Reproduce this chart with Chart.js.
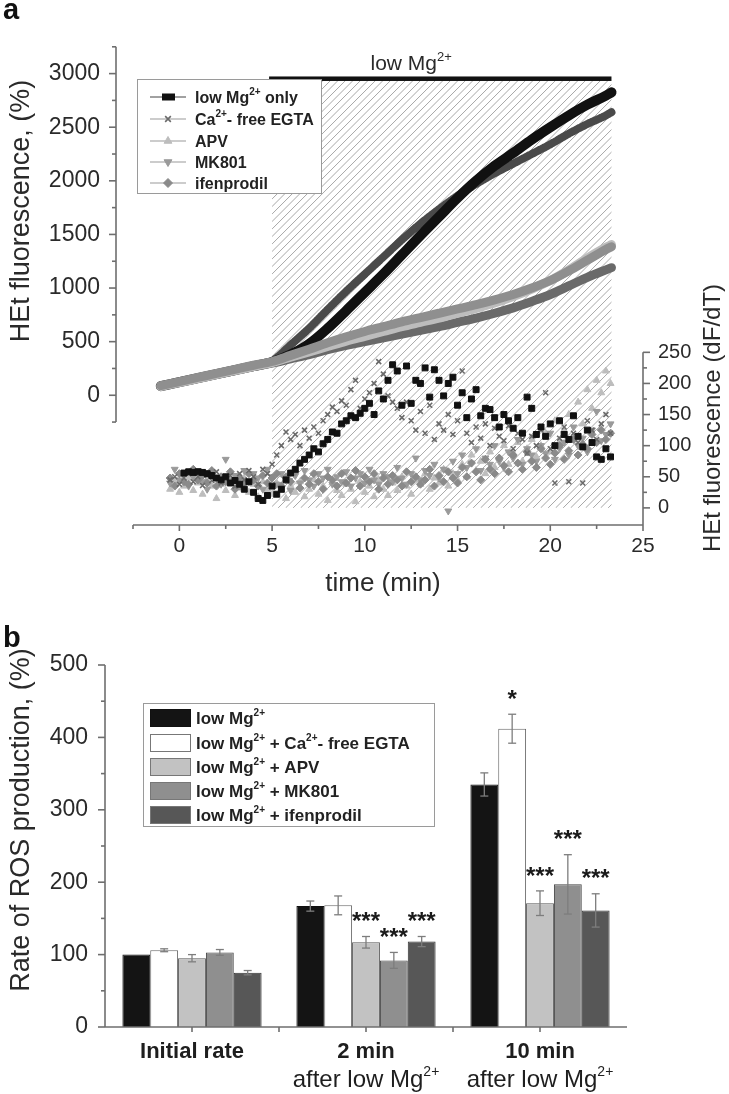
<!DOCTYPE html>
<html><head><meta charset="utf-8">
<script src="https://cdn.jsdelivr.net/npm/chart.js@4.4.1/dist/chart.umd.min.js"></script>
<style>
html,body{margin:0;padding:0;background:#fff;width:729px;height:1094px;overflow:hidden;position:relative;}
#ca{position:absolute;left:0;top:0;}
#cb{position:absolute;left:0;top:600px;}
</style></head><body>
<canvas id="ca" width="729" height="600"></canvas>
<canvas id="cb" width="729" height="494"></canvas>
<script>
// ---------------- DATA (panel a) ----------------
const seriesNames = ['low Mg^{2+} only','Ca^{2+}- free EGTA','APV','MK801','ifenprodil'];
const xTicks = [0,5,10,15,20,25];
const yLeftTicks = [0,500,1000,1500,2000,2500,3000];
const yRightTicks = [0,50,100,150,200,250];
const lowMgStart = 5, lowMgEnd = 23.3, lowMgBarLevel = 2950, lowMgLabelT = 12.5;

const cumTime  = [-1,0,1,2,3,4,5,6,7,8,9,10,11,12,13,14,15,16,17,18,19,20,21,22,23,23.3];
const cumLowMg = [85,122,160,197,235,272,310,380,480,625,790,960,1130,1310,1490,1665,1840,2000,2140,2260,2385,2500,2610,2710,2795,2825];
const cumEGTA  = [88,125,162,200,238,276,320,470,625,800,970,1130,1290,1450,1600,1735,1860,1970,2070,2160,2250,2340,2440,2530,2610,2640];
const cumAPV   = [82,118,155,192,230,268,305,355,405,455,505,550,595,640,680,720,765,810,860,920,990,1070,1170,1280,1380,1405];
const cumMK801 = [90,128,166,204,242,280,315,372,430,490,545,595,640,685,725,765,805,845,890,940,1000,1070,1160,1260,1360,1385];
const cumIfen  = [86,120,157,194,231,268,300,340,380,425,465,500,535,570,605,640,680,720,765,815,875,940,1020,1100,1170,1190];

const rateTime = [
 -0.5,-0.25,0,0.25,0.5,0.75,1,1.25,
 1.5,1.75,2,2.25,2.5,2.75,3,3.25,
 3.5,3.75,4,4.25,4.5,4.75,5,5.25,
 5.5,5.75,6,6.25,6.5,6.75,7,7.25,
 7.5,7.75,8,8.25,8.5,8.75,9,9.25,
 9.5,9.75,10,10.25,10.5,10.75,11,11.25,
 11.5,11.75,12,12.25,12.5,12.75,13,13.25,
 13.5,13.75,14,14.25,14.5,14.75,15,15.25,
 15.5,15.75,16,16.25,16.5,16.75,17,17.25,
 17.5,17.75,18,18.25,18.5,18.75,19,19.25,
 19.5,19.75,20,20.25,20.5,20.75,21,21.25,
 21.5,21.75,22,22.25,22.5,22.75,23,23.25];
const rateLowMg = [
 null,null,null,56,58,57,58,57,
 55,52,48,45,50,40,44,38,
 30,42,25,15,12,20,35,22,
 30,45,56,62,72,78,85,95,
 90,103,110,122,120,135,140,148,
 145,152,160,168,150,188,175,205,
 230,220,165,228,168,205,200,225,
 178,222,205,180,200,210,165,185,
 145,175,190,148,160,158,145,130,
 150,140,128,145,120,178,160,118,
 130,115,135,100,140,118,110,148,
 115,98,125,105,82,78,95,82];
const rateEGTA = [
 45,50,38,48,55,42,50,36,
 52,44,58,40,47,52,35,55,
 45,60,50,38,62,55,70,85,
 100,122,110,118,100,125,112,130,
 120,140,150,162,155,172,165,190,
 205,160,175,185,200,235,215,180,
 170,160,145,170,140,125,155,120,
 165,110,135,125,150,118,140,220,
 120,105,130,112,135,100,128,115,
 108,132,95,120,110,88,115,100,
 125,185,95,40,112,130,42,120,
 105,40,140,125,110,135,150,120];
const rateAPV = [
 30,42,25,35,48,28,40,22,
 45,35,15,38,28,45,20,32,
 48,25,38,18,42,30,22,40,
 28,15,35,25,42,18,30,45,
 22,35,12,40,28,20,38,30,
 10,42,25,35,18,45,30,20,
 40,28,50,35,22,45,38,55,
 30,48,40,62,35,55,45,70,
 50,85,60,75,55,90,65,80,
 100,70,88,105,75,95,110,82,
 100,120,90,140,105,125,150,115,
 170,135,190,160,205,185,220,200];
const rateMK801 = [
 40,62,45,55,35,50,60,42,
 30,55,48,38,78,45,52,35,
 60,42,55,48,30,62,50,38,
 55,45,28,52,40,60,45,35,
 55,48,62,38,50,42,58,35,
 48,55,40,62,45,38,55,50,
 42,65,48,38,55,80,45,60,
 52,70,48,62,-5,75,55,85,
 65,72,95,60,80,70,100,75,
 65,90,80,110,70,95,85,75,
 100,88,120,78,95,105,85,130,
 100,112,90,125,155,108,118,135];
const rateIfen = [
 48,35,55,42,38,62,45,52,
 40,60,35,50,42,58,30,48,
 40,55,45,35,52,40,48,55,
 35,50,42,58,32,48,38,55,
 42,30,50,45,35,55,40,48,
 60,35,50,42,55,30,48,38,
 52,45,35,58,42,50,38,45,
 62,35,52,42,58,48,40,65,
 50,72,58,45,78,62,55,80,
 68,58,85,72,62,90,75,65,
 95,80,70,88,100,78,92,110,
 85,102,95,118,105,125,110,120];

// ---------------- DATA (panel b) ----------------
const barCategories = [['Initial rate'], ['2 min','after low Mg^{2+}'], ['10 min','after low Mg^{2+}']];
const barSeriesNames = ['low Mg^{2+}','low Mg^{2+} + Ca^{2+}- free EGTA','low Mg^{2+} + APV','low Mg^{2+} + MK801','low Mg^{2+} + ifenprodil'];
const barYTicks = [0,100,200,300,400,500];
const barLowMg = [100,167,335];   const errLowMg = [0,7,16];   const sigLowMg = ['','',''];
const barEGTA  = [106,168,412];   const errEGTA  = [2,13,20];  const sigEGTA  = ['','','*'];
const barAPV   = [95,117,171];    const errAPV   = [5,8,17];   const sigAPV   = ['','***','***'];
const barMK801 = [103,92,197];    const errMK801 = [4,11,41];  const sigMK801 = ['','***','***'];
const barIfen  = [75,118,161];    const errIfen  = [3,7,23];   const sigIfen  = ['','***','***'];

// ---------------- STYLE ----------------
const FONT = "'Liberation Sans', Arial, Helvetica, sans-serif";
const TXT = '#2a2a2a';
const AX = '#6e6e6e';
Chart.defaults.font.family = FONT;
Chart.defaults.color = TXT;

const lineStyles = [
 {color:'#111111', width:10, dash:[]},
 {color:'#4a4a4a', width:8, dash:[1.5,1.5]},
 {color:'#bdbdbd', width:9, dash:[]},
 {color:'#8f8f8f', width:9, dash:[]},
 {color:'#6a6a6a', width:9, dash:[]}
];
const markerStyles = [
 {style:'rect', rot:0, color:'#111111', r:4.2},
 {style:'crossRot', rot:0, color:'#6a6a6a', r:3.5},
 {style:'triangle', rot:0, color:'#bdbdbd', r:4},
 {style:'triangle', rot:180, color:'#9a9a9a', r:4},
 {style:'rectRot', rot:0, color:'#8a8a8a', r:4}
];
const barColors = ['#141414','#ffffff','#c2c2c2','#8f8f8f','#575757'];
const barBorders = ['#111111','#666666','#555555','#444444','#333333'];

// ---------------- helpers ----------------
function richParts(str){
  const parts=[]; const re=/\^\{([^}]*)\}/g; let last=0,m;
  while((m=re.exec(str))){ if(m.index>last) parts.push({t:str.slice(last,m.index),sup:false}); parts.push({t:m[1],sup:true}); last=re.lastIndex; }
  if(last<str.length) parts.push({t:str.slice(last),sup:false});
  return parts;
}
function drawRich(ctx,str,x,y,size,weight,align,color){
  const parts=richParts(str); const sup=Math.round(size*0.6);
  let w=0;
  parts.forEach(p=>{ ctx.font=`${weight} ${p.sup?sup:size}px ${FONT}`; p.w=ctx.measureText(p.t).width; w+=p.w; });
  let cx = align==='center' ? x-w/2 : (align==='right' ? x-w : x);
  ctx.textAlign='left'; ctx.textBaseline='alphabetic'; ctx.fillStyle=color||TXT;
  parts.forEach(p=>{ ctx.font=`${weight} ${p.sup?sup:size}px ${FONT}`; ctx.fillText(p.t,cx,p.sup? y-size*0.45 : y); cx+=p.w; });
}
function seg(ctx,x1,y1,x2,y2){ ctx.beginPath(); ctx.moveTo(x1,y1); ctx.lineTo(x2,y2); ctx.stroke(); }
function rotText(ctx,str,x,y,size){
  ctx.save(); ctx.translate(x,y); ctx.rotate(-Math.PI/2);
  ctx.font=`400 ${size}px ${FONT}`; ctx.fillStyle=TXT; ctx.textAlign='center'; ctx.textBaseline='middle';
  ctx.fillText(str,0,0); ctx.restore();
}
function pts(xs,ys){ return xs.map((x,i)=>({x:x,y:ys[i]})).filter(p=>p.y!==null); }
const plainTick = v => String(v);

// ---------------- Panel a ----------------
const cumSeries = [cumLowMg, cumEGTA, cumAPV, cumMK801, cumIfen];
const rateSeries = [rateLowMg, rateEGTA, rateAPV, rateMK801, rateIfen];
// first = drawn on top
const drawOrderCum = [3,2,4,0,1];
const drawOrderRate = [0,1,4,3,2];
const dsA = [];
drawOrderCum.forEach(i=>{
  const s=lineStyles[i];
  dsA.push({label:seriesNames[i], yAxisID:'yL', data:pts(cumTime,cumSeries[i]), showLine:true,
    borderColor:s.color, borderWidth:s.width, borderDash:s.dash, pointRadius:0, tension:0.35,
    cubicInterpolationMode:'monotone', borderCapStyle:'round', fill:false});
});
drawOrderRate.forEach(i=>{
  const m=markerStyles[i];
  dsA.push({label:seriesNames[i]+' rate', yAxisID:'yR', data:pts(rateTime,rateSeries[i]), showLine:false,
    pointStyle:m.style, pointRotation:m.rot, pointRadius:m.r, backgroundColor:m.color, borderColor:m.color,
    borderWidth: m.style==='crossRot'?1.6:1});
});

const pluginA = {
  id:'panelA',
  beforeDatasetsDraw(chart){
    const {ctx, scales:{x,yL,yR}} = chart;
    const x0=x.getPixelForValue(lowMgStart), x1=x.getPixelForValue(lowMgEnd);
    const yTop=yL.getPixelForValue(lowMgBarLevel), yBot=yR.getPixelForValue(0);
    ctx.save();
    ctx.beginPath(); ctx.rect(x0,yTop,x1-x0,yBot-yTop); ctx.clip();
    ctx.strokeStyle='#a8a8a8'; ctx.lineWidth=1;
    const h=yBot-yTop;
    for(let s=x0-h; s<x1+2; s+=7.5){ seg(ctx,s,yBot,s+h,yTop); }
    ctx.restore();
    ctx.save();
    ctx.fillStyle='#111'; ctx.fillRect(x0-3,yTop-2.5,x1-x0+3,4.5);
    drawRich(ctx,'low Mg^{2+}', x.getPixelForValue(lowMgLabelT), yTop-9, 21, 400, 'center');
    ctx.restore();
  },
  afterDatasetsDraw(chart){
    const {ctx} = chart;
    ctx.save();
    const bx=137, by=79, bw=184, bh=114;
    ctx.fillStyle='#fff'; ctx.fillRect(bx,by,bw,bh);
    ctx.strokeStyle='#9a9a9a'; ctx.lineWidth=1; ctx.strokeRect(bx+0.5,by+0.5,bw,bh);
    const rows=[97,119,141,162,183];
    seriesNames.forEach((n,i)=>{
      const y=rows[i]; const m=markerStyles[i];
      ctx.strokeStyle = i===0 ? '#444' : '#999'; ctx.lineWidth=1; ctx.setLineDash([]);
      seg(ctx,150,y,186,y);
      ctx.fillStyle=m.color; ctx.strokeStyle=m.color; ctx.lineWidth= m.style==='crossRot'?1.6:1;
      if(i===0){ ctx.fillRect(162,y-3.5,13,7); }
      else Chart.helpers.drawPoint(ctx,{pointStyle:m.style, rotation:m.rot, radius:m.r+0.5, borderWidth:1},168,y);
      drawRich(ctx,n,195,y+5.5,16,700,'left','#222');
    });
    ctx.restore();
  },
  afterDraw(chart){
    const {ctx, chartArea:ca, scales:{x,yL,yR}} = chart;
    ctx.save();
    ctx.strokeStyle=AX; ctx.lineWidth=1.6; ctx.setLineDash([]);
    const lx = ca.left-17;
    seg(ctx,lx,yL.getPixelForValue(-250),lx,yL.getPixelForValue(3250));
    for(let v=-250; v<=3250; v+=250){ const p=yL.getPixelForValue(v); const maj=(v%500===0); seg(ctx,lx-(maj?7:4),p,lx,p); }
    seg(ctx,ca.left,ca.bottom,ca.right,ca.bottom);
    for(let t=-2.5; t<=25; t+=2.5){ const p=x.getPixelForValue(t); const maj=(t%5===0); seg(ctx,p,ca.bottom,p,ca.bottom+(maj?6:4)); }
    seg(ctx,ca.right,yR.getPixelForValue(250),ca.right,ca.bottom);
    for(let v=0; v<=250; v+=25){ const p=yR.getPixelForValue(v); const maj=(v%50===0); seg(ctx,ca.right,p,ca.right+(maj?7:4),p); }
    rotText(ctx,'HEt fluorescence, (%)',22,211,27);
    rotText(ctx,'HEt fluorescence (dF/dT)',713,418,24);
    ctx.font=`400 26px ${FONT}`; ctx.fillStyle=TXT; ctx.textAlign='center'; ctx.textBaseline='middle';
    ctx.fillText('time (min)',383,584);
    ctx.font=`700 29px ${FONT}`; ctx.textAlign='left'; ctx.textBaseline='alphabetic'; ctx.fillStyle='#111';
    ctx.fillText('a',3,19);
    ctx.restore();
  }
};

new Chart(document.getElementById('ca'), {
  type:'scatter',
  data:{datasets:dsA},
  options:{
    responsive:false, animation:false, devicePixelRatio:1,
    layout:{padding:{top:21,left:0,right:0,bottom:0}},
    plugins:{legend:{display:false}, tooltip:{enabled:false}},
    scales:{
      x:{type:'linear', min:-2.5, max:25,
         grid:{display:false, drawTicks:false}, border:{display:false},
         ticks:{font:{size:21}, padding:9, color:TXT, callback:plainTick},
         afterBuildTicks:s=>{ s.ticks = xTicks.map(v=>({value:v})); },
         afterFit:s=>{ s.height = 75; }},
      yL:{type:'linear', position:'left', min:-1210, max:3250,
         grid:{display:false, drawTicks:false}, border:{display:false},
         ticks:{font:{size:23}, padding:33, color:TXT, callback:plainTick},
         afterBuildTicks:s=>{ s.ticks = yLeftTicks.map(v=>({value:v})); },
         afterFit:s=>{ s.width = 133; }},
      yR:{type:'linear', position:'right', min:-27.5, max:741,
         grid:{display:false, drawTicks:false}, border:{display:false},
         ticks:{font:{size:20}, padding:15, color:TXT, callback:plainTick},
         afterBuildTicks:s=>{ s.ticks = yRightTicks.map(v=>({value:v})); },
         afterFit:s=>{ s.width = 86; }}
    }
  },
  plugins:[pluginA]
});

// ---------------- Panel b ----------------
const barValues = [barLowMg, barEGTA, barAPV, barMK801, barIfen];
const barErrs = [errLowMg, errEGTA, errAPV, errMK801, errIfen];
const barSigs = [sigLowMg, sigEGTA, sigAPV, sigMK801, sigIfen];
const dsB = barValues.map((vals,i)=>({
  label:barSeriesNames[i], data:vals, backgroundColor:barColors[i], borderColor:barBorders[i], borderWidth:1,
  categoryPercentage:0.8, barPercentage:1.0
}));

const pluginB = {
  id:'panelB',
  afterDatasetsDraw(chart){
    const {ctx, scales:{x,y}} = chart;
    ctx.save();
    barValues.forEach((vals,i)=>{
      const meta=chart.getDatasetMeta(i);
      vals.forEach((v,j)=>{
        const e=barErrs[i][j]; const bar=meta.data[j];
        if(e>0){
          const yt=y.getPixelForValue(v+e), yb=y.getPixelForValue(v-e);
          ctx.strokeStyle='#7d7d7d'; ctx.lineWidth=1.3;
          seg(ctx,bar.x,yt,bar.x,yb); seg(ctx,bar.x-4,yt,bar.x+4,yt); seg(ctx,bar.x-4,yb,bar.x+4,yb);
        }
        const sg=barSigs[i][j];
        if(sg){
          const yt=y.getPixelForValue(v+e);
          ctx.font=`700 24px ${FONT}`; ctx.fillStyle='#1a1a1a'; ctx.textAlign='center'; ctx.textBaseline='alphabetic';
          ctx.fillText(sg,bar.x,yt-21+24*0.57);
        }
      });
    });
    const bx=143, by=103, bw=291, bh=123;
    ctx.fillStyle='#fff'; ctx.fillRect(bx,by,bw,bh);
    ctx.strokeStyle='#9a9a9a'; ctx.lineWidth=1; ctx.strokeRect(bx+0.5,by+0.5,bw,bh);
    const rows=[118,143,167,191,215];
    barSeriesNames.forEach((n,i)=>{
      const yy=rows[i];
      ctx.fillStyle=barColors[i]; ctx.fillRect(150,yy-8.5,41,17);
      ctx.strokeStyle= i===0 ? '#111' : '#777'; ctx.lineWidth=1; ctx.strokeRect(150.5,yy-8.5,40,17);
      drawRich(ctx,n,196,yy+6,17,700,'left','#222');
    });
    ctx.restore();
  },
  afterDraw(chart){
    const {ctx, chartArea:ca, scales:{x,y}} = chart;
    ctx.save();
    ctx.strokeStyle=AX; ctx.lineWidth=1.6;
    seg(ctx,ca.left,y.getPixelForValue(0),ca.left,y.getPixelForValue(500));
    for(let v=0; v<=500; v+=50){ const p=y.getPixelForValue(v); const maj=(v%100===0); seg(ctx,ca.left-(maj?7:4),p,ca.left,p); }
    const y0=y.getPixelForValue(0);
    seg(ctx,ca.left,y0,ca.right,y0);
    const n=barCategories.length; const cw=(ca.right-ca.left)/n;
    for(let k=1;k<2*n;k++){ const p=ca.left+k*cw/2; seg(ctx,p,y0,p,y0+5); }
    barCategories.forEach((lines,j)=>{
      const cx=x.getPixelForValue(j);
      drawRich(ctx,lines[0],cx,458,22,700,'center','#1e1e1e');
      if(lines[1]) drawRich(ctx,lines[1],cx,487,24,400,'center','#1e1e1e');
    });
    rotText(ctx,'Rate of ROS production, (%)',22,220,27);
    ctx.font=`700 29px ${FONT}`; ctx.textAlign='left'; ctx.textBaseline='alphabetic'; ctx.fillStyle='#111';
    ctx.fillText('b',3,47);
    ctx.restore();
  }
};

new Chart(document.getElementById('cb'), {
  type:'bar',
  data:{labels:barCategories.map(l=>l.join(' ')), datasets:dsB},
  options:{
    responsive:false, animation:false, devicePixelRatio:1,
    layout:{padding:{top:65,left:0,right:102,bottom:0}},
    plugins:{legend:{display:false}, tooltip:{enabled:false}},
    scales:{
      x:{grid:{display:false, drawTicks:false}, border:{display:false}, ticks:{display:false},
         afterFit:s=>{ s.height = 67; }},
      y:{min:0, max:500, grid:{display:false, drawTicks:false}, border:{display:false},
         ticks:{font:{size:23}, padding:17, color:TXT, callback:plainTick},
         afterBuildTicks:s=>{ s.ticks = barYTicks.map(v=>({value:v})); },
         afterFit:s=>{ s.width = 105; }}
    }
  },
  plugins:[pluginB]
});
</script></body></html>
